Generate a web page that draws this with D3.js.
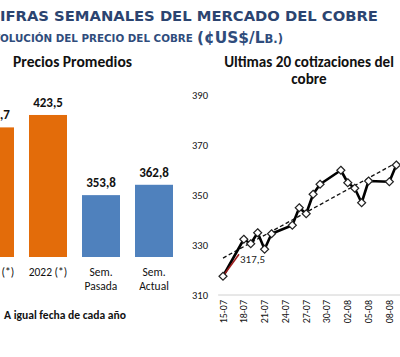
<!DOCTYPE html>
<html><head><meta charset="utf-8">
<script src="https://cdn.jsdelivr.net/npm/d3@7"></script>
<style>body{margin:0;background:#fff}svg{display:block}</style>
</head><body>
<svg id="c" width="400" height="357"></svg>
<script>
// ---------- data ----------
const headerTitle = "CIFRAS SEMANALES DEL MERCADO DEL COBRE";
const headerSub = "EVOLUCIÓN DEL PRECIO DEL COBRE";
const headerUnitMain = "(¢US$/L";
const headerUnitSmall = "B.)";
const barTitle = "Precios Promedios";
const barNote = "A igual fecha de cada año";
const barCategories = [["2021 (*)"], ["2022 (*)"], ["Sem.", "Pasada"], ["Sem.", "Actual"]];
const barValues = [412.7, 423.5, 353.8, 362.8];
const barKinds = ["year", "year", "week", "week"];
const lineTitle = ["Ultimas 20 cotizaciones del", "cobre"];
const lineDates = ["2022-07-15","2022-07-18","2022-07-19","2022-07-20","2022-07-21","2022-07-22",
  "2022-07-25","2022-07-26","2022-07-27","2022-07-28","2022-07-29",
  "2022-08-01","2022-08-02","2022-08-03","2022-08-04","2022-08-05",
  "2022-08-08","2022-08-09"];
const lineValues = [317.5, 332.3, 330.5, 334.9, 328.3, 334.5,
  337.9, 344.9, 342.5, 350.3, 354.3,
  359.9, 354.9, 352.7, 346.9, 355.6,
  355.3, 362.0];
const lineTickDates = ["2022-07-15","2022-07-18","2022-07-21","2022-07-24","2022-07-27","2022-07-30",
  "2022-08-02","2022-08-05","2022-08-08","2022-08-11"];
const lineYTicks = [310, 330, 350, 370, 390];

// ---------- setup ----------
const svg = d3.select("#c");
svg.append("rect").attr("width", 400).attr("height", 357).attr("fill", "#fff");
const CAL = "Carlito, Lato, 'Open Sans', sans-serif";
const navy = "#2b4470";

function fitWidth(sel, w) {
  const fs = +sel.attr("font-size");
  const cur = sel.node().getComputedTextLength();
  sel.attr("font-size", fs * w / cur);
}

// ---------- header ----------
const h1 = svg.append("text").attr("y", 21)
  .attr("font-family", "'DejaVu Sans', Verdana, sans-serif").attr("font-weight", "bold")
  .attr("font-size", 16).attr("fill", navy).text(headerTitle);
{
  const full = h1.node().getComputedTextLength();
  const first = h1.node().getSubStringLength(0, 1);
  const s = 378 / (full - first);
  h1.attr("font-size", 16 * s).attr("x", -first * s);
}
const h2 = svg.append("text").attr("y", 42)
  .attr("font-family", "'DejaVu Sans', Verdana, sans-serif").attr("font-weight", "bold")
  .attr("font-size", 11.5).attr("fill", "#2f4c7c").text(headerSub);
{
  const full = h2.node().getComputedTextLength();
  const pre = h2.node().getSubStringLength(0, 2);
  const s = 193 / (full - pre);
  h2.attr("font-size", 11.5 * s).attr("x", -pre * s);
}
const h3 = svg.append("text").attr("x", 197).attr("y", 43)
  .attr("font-family", "'DejaVu Sans', Verdana, sans-serif").attr("font-weight", "bold")
  .attr("font-size", 16).attr("fill", "#2f4c7c");
h3.append("tspan").text(headerUnitMain);
h3.append("tspan").attr("font-size", 12).text(headerUnitSmall);
{
  const w = h3.node().getComputedTextLength();
  const s = 86 / w;
  h3.attr("font-size", 16 * s);
  h3.select("tspan:nth-child(2)").attr("font-size", 12 * s);
}

// ---------- bar chart ----------
const bx = d3.scaleBand().domain(d3.range(barValues.length))
  .range([-31.5, 180.5]).paddingInner(0.283).paddingOuter(0.1415);
const by = d3.scaleLinear().domain([300, 440]).range([257, 96]);
const barColor = { year: "#E36C0A", week: "#4F81BD" };

const bt = svg.append("text").attr("x", 72.5).attr("y", 67).attr("text-anchor", "middle")
  .attr("font-family", CAL).attr("font-weight", "bold").attr("font-size", 13.5)
  .attr("fill", "#111").text(barTitle);
fitWidth(bt, 119);

const bars = svg.append("g");
bars.selectAll("rect").data(barValues).join("rect")
  .attr("x", (d, i) => bx(i)).attr("width", bx.bandwidth())
  .attr("y", d => by(d)).attr("height", d => by.range()[0] - by(d))
  .attr("fill", (d, i) => barColor[barKinds[i]]);
bars.selectAll("text.v").data(barValues).join("text").attr("class", "v")
  .attr("x", (d, i) => bx(i) + bx.bandwidth() / 2).attr("y", d => by(d) - 8)
  .attr("text-anchor", "middle").attr("font-family", CAL).attr("font-weight", "bold")
  .attr("font-size", 13).attr("fill", "#111")
  .text(d => d3.format(".1f")(d).replace(".", ","));
const cats = bars.selectAll("text.c").data(barCategories).join("text").attr("class", "c")
  .attr("text-anchor", "middle").attr("font-family", CAL).attr("font-size", 11.5)
  .attr("fill", "#111");
cats.each(function (lines, i) {
  d3.select(this).selectAll("tspan").data(lines).join("tspan")
    .attr("x", bx(i) + bx.bandwidth() / 2).attr("y", (l, j) => 276 + j * 14).text(l => l);
});
const note = svg.append("text").attr("x", 4).attr("y", 319)
  .attr("font-family", CAL).attr("font-weight", "bold").attr("font-size", 11)
  .attr("fill", "#111").text(barNote);
fitWidth(note, 122);

// ---------- line chart ----------
const parse = d3.utcParse("%Y-%m-%d");
const dates = lineDates.map(parse);
const pts = dates.map((d, i) => ({ d, v: lineValues[i] }));
const lx = d3.scaleUtc().domain([dates[0], dates[dates.length - 1]]).range([223, 396.3]);
const ly = d3.scaleLinear().domain([310, 390]).range([295, 95]);

const lt = svg.append("text").attr("text-anchor", "middle").attr("font-family", CAL)
  .attr("font-weight", "bold").attr("font-size", 13.5).attr("fill", "#111");
lt.selectAll("tspan").data(lineTitle).join("tspan")
  .attr("x", 309).attr("y", (d, i) => 67 + i * 17).text(d => d);
{
  const t0 = lt.select("tspan").node().getComputedTextLength();
  lt.attr("font-size", 13.5 * 170 / t0);
}

// y labels
svg.append("g").selectAll("text").data(lineYTicks).join("text")
  .attr("x", 208).attr("y", d => ly(d)).attr("dy", "0.35em").attr("text-anchor", "end")
  .attr("font-family", CAL).attr("font-size", 10.5).attr("fill", "#111").text(d => d);

// x axis
const dayMs = 86400000;
const axisStart = lx(new Date(dates[0].getTime() - 0.7 * dayMs));
svg.append("line").attr("x1", axisStart).attr("x2", 420)
  .attr("y1", ly(310)).attr("y2", ly(310)).attr("stroke", "#d0d0d0").attr("stroke-width", 1);
const fmt = d3.utcFormat("%d-%m");
svg.append("g").selectAll("text").data(lineTickDates.map(parse)).join("text")
  .attr("transform", d => `translate(${lx(d)},${ly(310) + 5}) rotate(-90)`)
  .attr("dy", "0.35em").attr("text-anchor", "end")
  .attr("font-family", CAL).attr("font-size", 10).attr("fill", "#111").text(fmt);

// trend line (least squares over calendar days)
const xs = pts.map(p => (p.d - dates[0]) / dayMs);
const mx = d3.mean(xs), my = d3.mean(lineValues);
const slope = d3.sum(xs.map((x, i) => (x - mx) * (lineValues[i] - my))) / d3.sum(xs.map(x => (x - mx) ** 2));
const icpt = my - slope * mx;
const trend = [0, xs[xs.length - 1]].map(x => ({ d: new Date(dates[0].getTime() + x * dayMs), v: icpt + slope * x }));
svg.append("path").datum(trend)
  .attr("d", d3.line().x(p => lx(p.d)).y(p => ly(p.v)))
  .attr("fill", "none").attr("stroke", "#111").attr("stroke-width", 1.3).attr("stroke-dasharray", "4,2.5");

// data line
svg.append("path").datum(pts)
  .attr("d", d3.line().x(p => lx(p.d)).y(p => ly(p.v)))
  .attr("fill", "none").attr("stroke", "#000").attr("stroke-width", 2.6).attr("stroke-linejoin", "round");

// label for first value with leader
const p0 = pts[0];
svg.append("line").attr("x1", lx(p0.d)).attr("y1", ly(p0.v))
  .attr("x2", lx(p0.d) + 16).attr("y2", ly(p0.v) - 22)
  .attr("stroke", "#9b1c1c").attr("stroke-width", 1.6);
svg.append("text").attr("x", lx(p0.d) + 17).attr("y", ly(p0.v) - 13)
  .attr("font-family", CAL).attr("font-size", 11).attr("fill", "#222")
  .text(d3.format(".1f")(p0.v).replace(".", ","));

// markers
const r = 4;
svg.append("g").selectAll("path").data(pts).join("path")
  .attr("transform", p => `translate(${lx(p.d)},${ly(p.v)})`)
  .attr("d", `M0,${-r}L${r},0L0,${r}L${-r},0Z`)
  .attr("fill", "#fff").attr("stroke", "#222").attr("stroke-width", 1.2);
</script>
</body></html>
